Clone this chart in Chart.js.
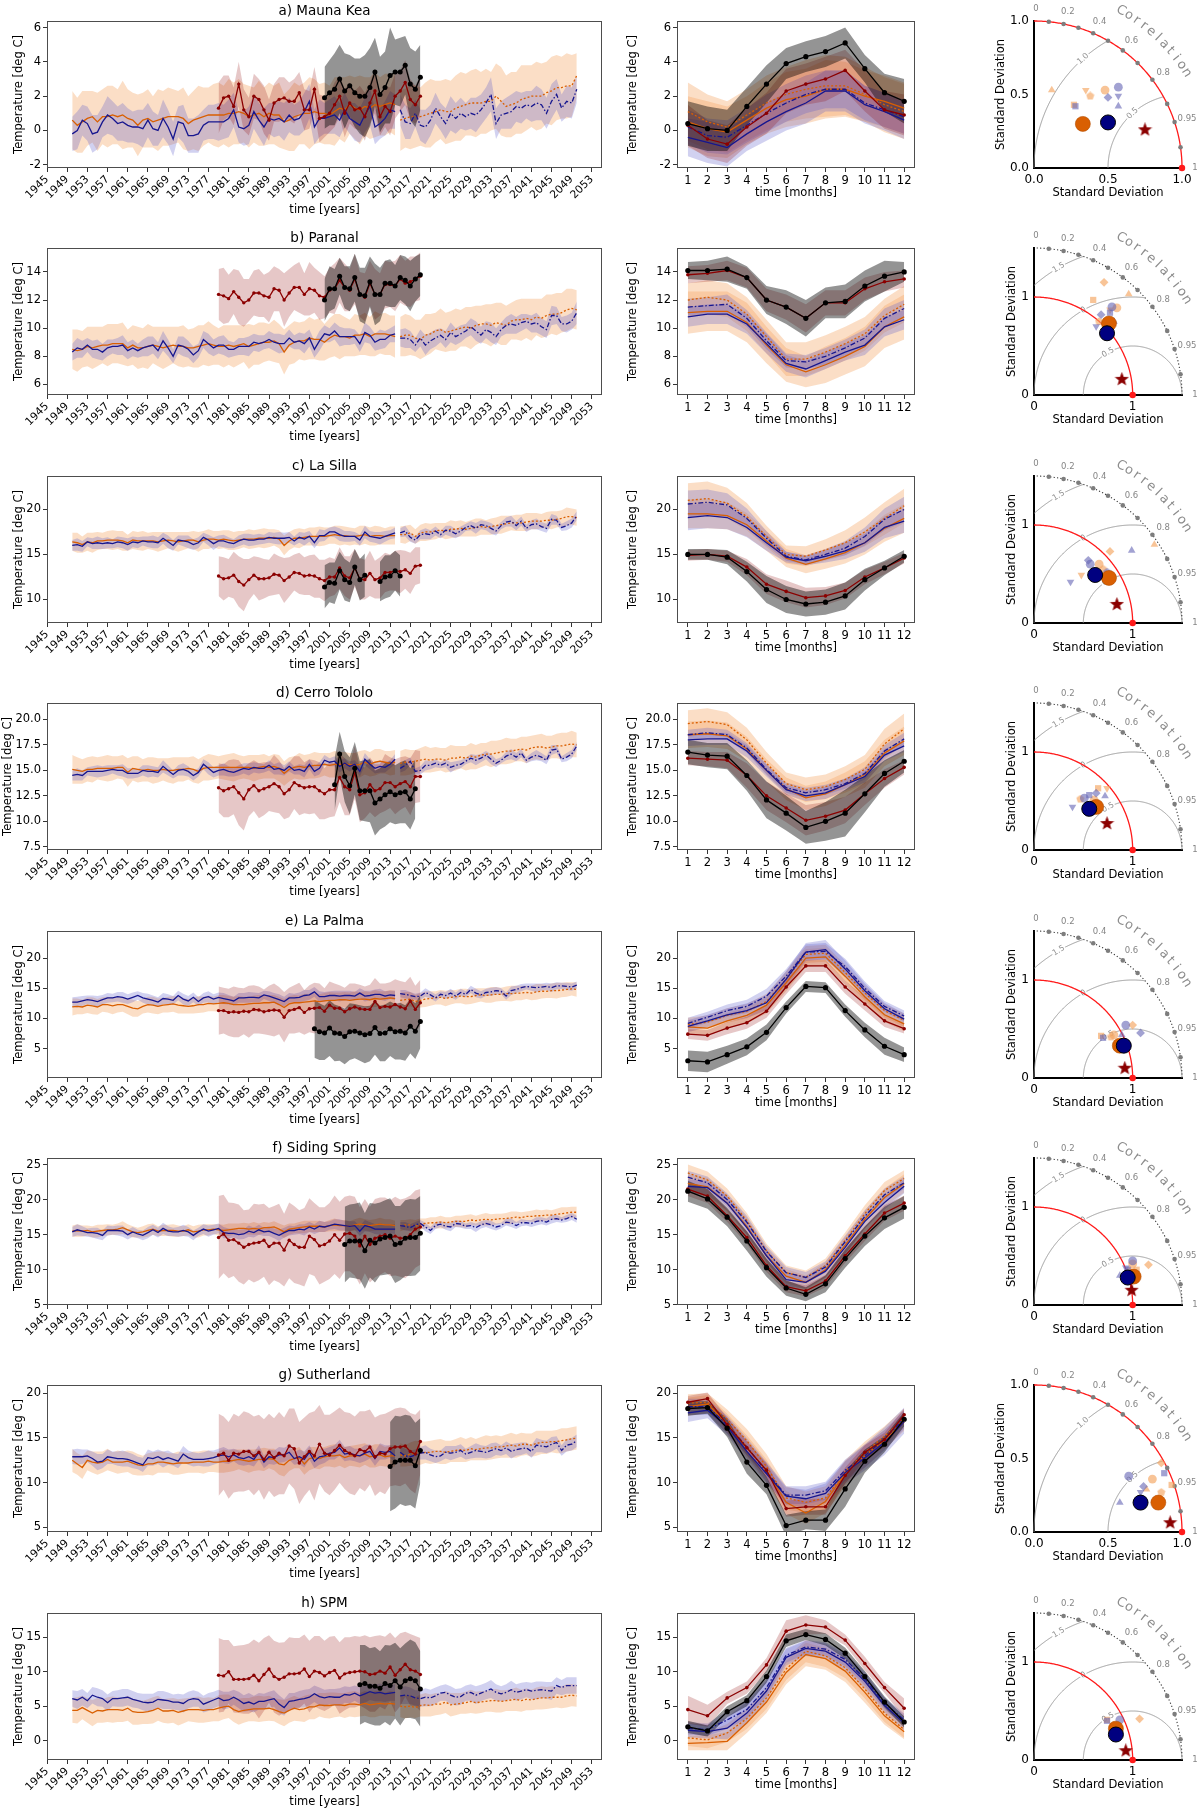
<!DOCTYPE html>
<html><head><meta charset="utf-8">
<script src="https://cdn.jsdelivr.net/npm/chart.js@4.4.1/dist/chart.umd.min.js"></script>
<style>
html,body{margin:0;padding:0;background:#fff;}
body{position:relative;width:1200px;height:1814px;overflow:hidden;}
canvas{position:absolute;}
</style></head><body>
<script>
// ================= DATA =================
const siteTitles = ['a) Mauna Kea','b) Paranal','c) La Silla','d) Cerro Tololo','e) La Palma','f) Siding Spring','g) Sutherland','h) SPM'];
const yMin = [-2.19, 5.25, 7.39, 7.18, 0.14, 4.98, 4.48, -2.82];
const yMax = [6.38, 15.7, 23.71, 21.62, 24.48, 25.93, 20.93, 18.54];
const yTicks = [[-2,0,2,4,6],[6,8,10,12,14],[10,15,20],[7.5,10,12.5,15,17.5,20],[5,10,15,20],[5,10,15,20,25],[5,10,15,20],[0,5,10,15]];
const yTickDecimals = [0,0,0,1,0,0,0,0];
const yearTicks = [1945,1949,1953,1957,1961,1965,1969,1973,1977,1981,1985,1989,1993,1997,2001,2005,2009,2013,2017,2021,2025,2029,2033,2037,2041,2045,2049,2053];
const monthTicks = [1,2,3,4,5,6,7,8,9,10,11,12];
const histStart = 1950, futStart = 2015, reanStart = 1979;
const obsStart = [2000,2000,2000,2002,1998,2004,2013,2007];

// yearly model mean, historical 1950-2014 (orange family)
const orangeHist = [
[0.6,0.3,0.5,0.7,0.8,0.5,0.8,0.8,0.9,0.8,0.9,0.7,0.6,0.3,0.6,0.7,0.5,0.6,0.7,0.8,0.8,0.8,0.7,0.4,0.6,0.7,0.8,0.9,0.9,0.9,0.9,1.0,1.0,1.1,1.0,0.8,0.9,1.0,0.8,1.0,0.9,0.9,0.5,0.6,0.8,0.9,1.0,1.0,1.1,1.0,1.0,0.9,1.1,1.3,1.2,1.5,1.3,1.2,1.4,1.3,1.5,1.4,1.5,1.6,1.5],
[8.5,8.4,8.5,8.7,8.6,8.7,8.8,8.8,8.9,8.9,8.9,8.6,8.8,8.6,8.6,8.7,8.8,8.7,8.6,8.7,8.8,8.7,8.7,8.6,8.6,8.7,8.8,8.9,8.8,8.7,8.7,8.8,8.7,8.8,8.9,8.7,8.8,8.9,9.0,9.0,9.1,8.9,8.3,8.8,9.0,9.1,9.1,9.3,9.2,9.2,9.0,9.3,9.5,9.4,9.4,9.3,9.5,9.5,9.6,9.4,9.6,9.6,9.6,9.5,9.4],
[16.4,16.3,16.1,16.4,16.3,16.5,16.5,16.6,16.6,16.6,16.5,16.3,16.6,16.5,16.5,16.5,16.5,16.4,16.5,16.6,16.5,16.4,16.5,16.6,16.6,16.4,16.6,16.7,16.7,16.6,16.7,16.6,16.5,16.6,16.7,16.7,16.7,16.8,16.8,16.8,16.9,16.7,16.0,16.5,16.8,16.8,16.9,17.0,17.0,17.0,17.0,17.1,17.2,17.1,17.1,17.0,17.0,17.1,17.2,17.0,17.1,17.1,17.0,17.1,17.1],
[15.1,15.0,14.9,15.1,15.1,15.2,15.2,15.2,15.2,15.3,15.3,14.8,15.2,15.1,15.0,15.1,15.0,15.0,15.1,15.0,15.0,15.1,15.1,15.2,15.1,14.9,15.2,15.3,15.3,15.3,15.3,15.3,15.3,15.3,15.3,15.3,15.2,15.3,15.4,15.3,15.4,15.2,14.7,15.1,15.3,15.4,15.3,15.4,15.5,15.5,15.6,15.5,15.6,15.6,15.6,15.6,15.5,15.6,15.8,15.6,15.8,15.9,15.8,15.7,15.8],
[11.9,12.0,11.9,12.2,12.1,11.9,12.3,12.3,12.1,12.3,12.3,12.0,11.7,11.6,12.0,12.3,12.2,12.0,12.2,12.3,12.4,12.2,12.1,12.0,12.1,12.3,12.3,12.5,12.4,12.5,12.6,12.5,12.3,12.3,12.3,12.4,12.5,12.5,12.6,12.6,12.7,12.3,11.8,12.4,12.6,12.6,12.7,12.8,12.9,12.8,12.9,13.0,13.0,13.1,13.1,13.0,13.1,13.2,13.2,13.1,13.3,13.2,13.3,13.4,13.3],
[15.5,15.6,15.5,15.6,15.4,15.5,15.6,15.7,15.7,15.8,16.0,15.7,15.4,15.3,15.4,15.6,15.8,15.5,15.6,15.6,15.6,15.5,15.5,15.7,15.4,15.5,15.7,15.7,15.8,15.7,15.6,15.7,15.8,15.9,15.9,15.8,15.9,15.8,16.0,16.0,16.1,15.8,15.4,15.8,15.9,16.0,16.1,16.2,16.2,16.2,16.1,16.3,16.4,16.3,16.3,16.2,16.4,16.5,16.4,16.3,16.4,16.5,16.4,16.4,16.3],
[12.5,12.1,11.7,12.5,12.3,12.2,12.3,12.6,12.3,12.3,12.3,12.4,12.2,12.0,11.9,12.1,12.1,12.3,12.3,12.2,12.1,12.2,12.2,12.2,12.3,12.3,12.3,12.4,12.3,12.3,12.4,12.4,12.5,12.6,12.5,12.4,12.5,12.6,12.6,12.7,12.6,12.1,12.0,12.5,12.7,12.8,12.1,12.7,12.8,12.7,12.9,13.0,13.0,13.1,12.8,13.0,13.0,13.0,13.2,12.9,13.0,13.1,12.9,13.0,13.0],
[4.4,4.4,4.8,4.4,4.0,4.4,4.3,4.5,4.5,4.5,4.4,4.7,4.2,4.1,4.1,4.2,4.4,4.7,4.3,4.3,4.4,4.1,4.3,4.5,4.5,4.5,4.4,4.5,4.5,4.7,4.9,5.0,4.5,4.2,4.4,4.5,4.6,4.6,4.6,4.7,4.5,4.2,4.0,4.4,4.7,4.5,4.6,4.9,4.9,5.2,5.1,5.1,5.2,5.2,5.1,5.3,5.3,5.2,5.4,5.2,5.3,5.4,5.3,5.4,5.3]];
const orangeHistSd = [
[1.7,1.6,1.8,1.6,1.5,1.7,1.6,1.8,1.7,1.6,2.0,1.7,1.6,1.8,1.6,1.7,1.5,1.8,1.6,1.7,1.6,1.5,1.8,1.6,1.7,1.9,1.7,1.6,1.8,1.9,1.7,2.0,1.8,1.9,1.7,1.8,1.6,1.9,1.7,1.8,1.7,1.9,1.6,1.8,2.0,1.7,1.8,2.1,1.9,1.7,1.8,1.7,2.0,1.8,1.9,1.7,1.8,2.0,1.7,1.8,1.9,1.7,1.8,1.7,1.8],
[1.4,1.5,1.3,1.4,1.5,1.4,1.3,1.5,1.4,1.4,1.5,1.3,1.4,1.5,1.4,1.6,1.3,1.4,1.5,1.4,1.3,1.4,1.5,1.3,1.4,1.5,1.4,1.6,1.4,1.3,1.5,1.4,1.5,1.4,1.3,1.6,1.4,1.5,1.4,1.3,1.5,1.4,1.6,1.4,1.5,1.3,1.4,1.5,1.4,1.5,1.3,1.4,1.5,1.6,1.4,1.3,1.5,1.4,1.5,1.4,1.6,1.4,1.5,1.4,1.5],
[1.0,1.1,0.9,1.0,1.1,1.0,0.9,1.0,1.1,1.0,1.1,0.9,1.0,1.0,1.1,0.9,1.0,1.1,1.0,0.9,1.0,1.1,1.0,0.9,1.0,1.1,1.0,1.1,0.9,1.0,1.0,1.1,1.0,1.0,0.9,1.1,1.0,1.0,1.1,1.0,0.9,1.0,1.1,1.0,1.0,1.1,0.9,1.0,1.0,1.1,1.0,0.9,1.0,1.1,1.0,1.0,0.9,1.1,1.0,1.0,1.1,1.0,0.9,1.0,1.0],
[1.4,1.3,1.2,1.2,1.3,1.1,1.2,1.3,1.2,1.1,1.2,1.4,1.2,1.3,1.1,1.2,1.3,1.2,1.1,1.2,1.3,1.2,1.2,1.1,1.3,1.2,1.2,1.3,1.2,1.1,1.2,1.3,1.4,1.2,1.1,1.2,1.3,1.2,1.2,1.1,1.2,1.3,1.2,1.2,1.1,1.3,1.2,1.2,1.3,1.2,1.1,1.2,1.3,1.2,1.2,1.1,1.2,1.3,1.2,1.2,1.3,1.2,1.1,1.2,1.2],
[1.4,1.3,1.2,1.3,1.4,1.3,1.2,1.3,1.4,1.3,1.2,1.3,1.4,1.3,1.2,1.3,1.4,1.3,1.2,1.3,1.3,1.4,1.3,1.2,1.3,1.4,1.3,1.3,1.2,1.4,1.3,1.2,1.3,1.4,1.3,1.2,1.3,1.4,1.3,1.3,1.2,1.3,1.4,1.3,1.3,1.2,1.4,1.3,1.3,1.2,1.3,1.4,1.3,1.2,1.3,1.3,1.4,1.2,1.3,1.3,1.4,1.3,1.2,1.3,1.3],
[0.8,0.9,0.8,0.7,0.8,0.9,0.8,0.8,0.7,0.8,0.9,0.8,0.8,0.7,0.8,0.9,0.8,0.7,0.8,0.8,0.9,0.8,0.7,0.8,0.8,0.9,0.8,0.8,0.7,0.8,0.8,0.9,0.8,0.7,0.8,0.8,0.9,0.8,0.8,0.7,0.8,0.8,0.9,0.8,0.7,0.8,0.9,0.8,0.8,0.8,0.7,0.8,0.9,0.8,0.8,0.7,0.8,0.9,0.8,0.8,0.8,0.9,0.8,0.8,0.7],
[1.3,1.2,1.3,1.1,1.2,1.3,1.2,1.2,1.1,1.3,1.2,1.2,1.3,1.2,1.1,1.2,1.3,1.2,1.2,1.1,1.2,1.3,1.2,1.1,1.2,1.2,1.3,1.2,1.1,1.2,1.3,1.2,1.2,1.1,1.2,1.3,1.2,1.2,1.3,1.1,1.2,1.2,1.3,1.2,1.1,1.2,1.2,1.3,1.2,1.2,1.1,1.2,1.3,1.2,1.2,1.1,1.2,1.3,1.2,1.2,1.3,1.2,1.1,1.2,1.2],
[1.8,1.9,1.7,1.8,1.9,1.8,1.7,1.8,1.9,1.8,1.7,1.8,1.9,1.8,1.7,1.8,1.9,1.8,1.7,1.8,1.8,1.9,1.8,1.7,1.8,1.9,1.8,1.8,1.7,1.9,1.8,1.7,1.8,1.9,1.8,1.7,1.8,1.9,1.8,1.8,1.7,1.8,1.9,1.8,1.8,1.7,1.9,1.8,1.8,1.7,1.8,1.9,1.8,1.7,1.8,1.8,1.9,1.7,1.8,1.8,1.9,1.8,1.7,1.8,1.8]];
// yearly model mean, future 2015-2050 (orange family)
const orangeFut = [
[0.6,0.7,0.8,0.8,0.8,0.9,1.0,1.1,1.2,1.1,1.1,1.3,1.4,1.5,1.6,1.6,1.6,1.7,1.7,2.0,1.7,1.4,1.5,1.6,1.8,1.9,2.0,2.0,2.0,2.2,2.3,2.5,2.5,2.6,2.6,3.2],
[9.4,9.5,9.5,9.3,9.2,9.5,9.6,9.8,9.9,9.7,9.8,9.9,10.0,10.1,10.0,10.2,10.3,10.3,10.2,10.4,10.3,10.2,10.5,10.6,10.6,10.7,10.6,10.8,10.7,10.9,11.0,11.0,11.1,11.3,11.4,11.3],
[17.2,17.2,17.4,17.0,17.4,17.5,17.5,17.6,17.7,17.6,17.8,17.8,17.9,17.8,17.9,18.0,18.1,18.0,18.1,18.2,18.3,18.4,18.5,18.5,18.5,18.6,18.7,18.7,18.7,18.8,18.8,18.9,19.0,19.2,19.2,19.1],
[15.7,15.8,15.8,15.9,16.0,16.1,16.0,16.1,16.1,16.0,16.2,16.2,16.3,16.2,16.4,16.3,16.5,16.6,16.6,16.7,16.8,16.9,16.9,17.0,17.1,17.0,17.2,17.3,17.3,17.2,17.3,17.4,17.4,17.5,17.6,17.5],
[13.0,13.1,13.2,12.8,13.0,13.2,13.3,13.4,13.5,13.3,13.5,13.6,13.7,13.6,13.6,13.8,13.9,13.8,13.9,14.0,14.0,14.1,14.1,14.2,14.2,14.3,14.2,14.4,14.5,14.5,14.6,14.6,14.7,14.8,14.9,14.8],
[16.3,16.4,16.4,16.2,16.5,16.6,16.7,16.7,16.8,16.7,16.8,16.9,16.9,16.9,17.1,17.0,17.1,17.2,17.1,17.2,17.3,17.3,17.4,17.5,17.4,17.6,17.6,17.7,17.7,17.8,17.8,17.9,18.0,18.1,18.2,18.2],
[13.1,13.0,13.2,13.3,13.3,13.4,13.4,13.5,13.5,13.4,13.5,13.6,13.7,13.6,13.8,13.7,13.8,13.9,13.9,14.0,14.0,14.1,14.2,14.1,14.3,14.3,14.2,14.4,14.5,14.5,14.6,14.6,14.7,14.8,14.9,15.0],
[5.0,4.9,5.0,4.8,5.1,5.2,5.1,5.3,5.3,5.6,5.2,5.3,5.4,5.5,5.7,5.5,5.6,5.7,5.8,5.8,5.7,5.8,5.9,6.0,5.8,6.0,5.9,6.1,6.2,6.2,6.3,6.3,6.3,6.5,6.6,6.5]];
const orangeFutSd = [
[1.8,1.7,1.9,1.8,1.7,1.9,2.0,1.8,1.7,1.9,1.8,1.9,2.0,1.8,1.9,2.0,1.8,1.9,1.7,1.9,2.0,1.8,1.9,1.8,2.0,1.9,1.8,2.0,1.9,1.8,2.0,1.9,1.8,1.9,1.8,1.3],
[1.4,1.5,1.4,1.3,1.4,1.5,1.4,1.3,1.5,1.4,1.4,1.5,1.3,1.4,1.5,1.4,1.3,1.4,1.5,1.4,1.5,1.4,1.3,1.4,1.5,1.4,1.5,1.3,1.4,1.5,1.4,1.5,1.4,1.5,1.4,1.4],
[0.9,1.0,0.9,0.8,0.9,1.0,0.9,0.9,0.8,0.9,1.0,0.9,0.9,0.8,0.9,1.0,0.9,0.8,0.9,0.9,1.0,0.9,0.8,0.9,0.9,1.0,0.9,0.9,0.8,0.9,1.0,0.9,0.9,1.0,0.9,0.9],
[1.2,1.3,1.2,1.1,1.2,1.3,1.2,1.2,1.1,1.2,1.3,1.2,1.1,1.2,1.3,1.2,1.2,1.1,1.3,1.2,1.2,1.3,1.2,1.1,1.2,1.3,1.2,1.2,1.3,1.2,1.1,1.2,1.3,1.2,1.3,1.2],
[1.2,1.3,1.2,1.1,1.2,1.3,1.2,1.1,1.2,1.3,1.2,1.1,1.2,1.3,1.2,1.2,1.1,1.2,1.3,1.2,1.1,1.2,1.3,1.2,1.2,1.1,1.2,1.3,1.2,1.1,1.2,1.3,1.2,1.2,1.1,1.2],
[0.8,0.7,0.8,0.9,0.8,0.7,0.8,0.8,0.9,0.8,0.7,0.8,0.8,0.9,0.8,0.7,0.8,0.9,0.8,0.8,0.7,0.8,0.9,0.8,0.8,0.7,0.8,0.9,0.8,0.8,0.7,0.8,0.9,0.8,0.8,0.8],
[1.3,1.2,1.3,1.4,1.3,1.2,1.3,1.3,1.4,1.3,1.2,1.3,1.4,1.3,1.3,1.2,1.3,1.4,1.3,1.3,1.2,1.3,1.4,1.3,1.3,1.2,1.3,1.4,1.3,1.3,1.2,1.3,1.4,1.3,1.3,1.3],
[1.6,1.7,1.6,1.5,1.6,1.7,1.6,1.6,1.5,1.6,1.7,1.6,1.5,1.6,1.7,1.6,1.6,1.5,1.6,1.7,1.6,1.5,1.6,1.7,1.6,1.6,1.5,1.6,1.7,1.6,1.6,1.5,1.6,1.7,1.6,1.6]];
// yearly model mean, historical 1950-2014 (blue family)
const blueHist = [
[-0.2,0.0,0.6,0.4,-0.2,-0.1,0.5,0.9,0.7,0.4,0.5,0.3,0.2,0.2,0.1,0.6,0.1,0.0,0.7,0.2,-0.5,0.5,0.4,-0.3,-0.3,-0.2,0.3,0.5,0.5,0.5,0.5,0.7,1.2,0.2,0.1,0.3,1.1,0.6,0.2,0.7,0.6,0.7,0.5,0.9,0.6,0.7,1.1,1.7,0.2,0.7,0.7,0.8,0.9,0.6,1.2,0.7,0.5,0.3,0.9,1.4,0.2,0.4,0.7,1.2,1.1],
[8.3,8.6,8.5,8.8,8.5,8.5,8.3,8.6,8.7,8.7,8.8,8.4,8.6,8.4,8.6,8.7,8.8,8.4,9.1,8.6,8.0,8.8,8.7,8.5,8.1,8.4,9.2,8.9,8.6,8.8,8.8,8.5,8.5,8.7,8.7,8.7,9.0,8.9,9.0,9.2,9.0,8.9,8.9,9.3,9.0,9.1,8.9,9.3,8.5,9.1,9.6,9.5,9.8,9.4,9.4,9.4,9.4,8.9,9.7,9.5,9.0,9.2,9.2,9.5,9.6],
[16.0,16.1,15.9,16.4,16.2,16.3,16.2,16.3,16.2,16.4,16.3,16.1,16.4,16.3,16.5,16.4,16.4,16.3,16.8,16.4,16.0,16.6,16.5,16.4,16.1,16.3,16.9,16.6,16.2,16.5,16.5,16.3,16.2,16.5,16.7,16.6,16.6,16.7,16.7,16.9,16.8,16.8,16.8,16.9,16.5,16.9,16.7,17.0,16.3,17.1,17.1,17.5,17.5,17.2,17.0,17.0,17.0,16.6,17.5,17.0,16.9,16.8,17.0,17.2,17.4],
[14.5,14.6,14.5,14.9,14.9,14.9,14.9,15.0,15.1,15.0,15.0,14.7,14.7,14.7,15.0,14.9,14.9,14.8,15.4,15.0,14.6,15.0,15.1,14.9,14.5,14.8,15.6,15.2,14.8,15.0,15.1,14.9,14.8,15.0,15.2,15.1,15.3,15.2,15.2,15.5,15.1,15.2,15.0,15.4,15.0,15.1,14.9,15.6,14.9,15.2,16.0,15.8,15.9,15.4,15.7,15.4,15.6,14.9,16.1,15.6,15.2,15.4,15.3,15.6,16.1],
[12.7,12.7,12.9,13.1,13.0,12.8,13.1,13.4,13.4,13.6,13.5,13.2,13.5,13.8,13.4,13.2,13.0,12.7,13.3,13.2,13.0,13.8,13.2,12.9,13.5,12.8,13.4,13.6,13.2,13.5,13.3,13.1,12.9,13.4,13.4,13.5,13.5,13.4,13.9,13.7,13.4,13.1,12.8,13.4,13.4,13.5,13.8,13.9,14.4,13.6,13.6,13.8,13.8,13.7,13.8,13.8,13.7,14.2,13.7,13.8,14.0,14.0,13.7,13.9,13.8],
[15.4,15.7,15.5,15.3,15.3,15.2,14.9,15.6,15.6,15.6,15.5,15.0,15.4,15.1,14.9,15.3,15.7,15.3,15.9,15.5,15.4,15.4,15.6,15.4,14.9,15.4,15.8,15.5,15.7,15.9,15.3,15.2,15.2,15.0,15.1,15.5,15.3,15.7,15.4,15.5,15.2,14.9,15.3,15.6,15.6,15.8,15.7,16.1,15.8,16.2,16.1,16.3,16.5,16.4,16.3,16.2,16.3,15.5,16.3,16.1,15.8,15.8,15.8,15.8,15.8],
[12.9,12.9,12.9,13.0,12.7,12.3,12.4,12.9,12.8,12.7,12.7,12.6,12.4,12.2,12.0,12.8,12.7,12.9,12.6,12.8,12.6,12.4,13.2,12.8,12.6,12.6,12.6,12.7,12.8,13.0,13.1,12.9,13.1,12.8,12.7,12.9,12.6,13.4,12.3,12.9,12.8,13.1,13.1,13.4,12.7,12.9,12.6,13.4,12.4,12.9,13.0,13.3,13.4,13.9,13.2,13.3,13.1,13.0,13.3,13.5,12.7,13.5,13.4,13.5,13.0],
[6.1,5.9,6.3,5.8,6.6,6.3,6.1,5.5,6.1,6.1,6.2,6.3,6.0,5.8,5.6,5.5,5.6,6.0,5.9,5.8,5.6,5.6,5.4,5.9,6.1,6.0,5.3,5.6,5.9,6.2,5.8,5.9,6.3,5.9,5.4,5.6,5.3,5.7,5.7,5.9,6.1,5.3,4.8,5.7,5.8,6.0,6.1,6.3,6.8,6.4,6.2,6.4,6.3,6.3,6.7,6.6,6.9,6.5,6.8,7.1,6.9,7.0,6.8,6.9,7.0]];
const blueHistSd = [
[1.0,1.1,0.9,1.0,1.1,1.0,0.9,1.1,1.0,1.0,1.1,1.0,0.9,1.0,1.1,1.0,1.0,0.9,1.1,1.0,1.0,0.9,1.1,1.0,1.0,1.1,0.9,1.0,1.0,1.1,1.0,1.1,1.0,0.9,1.0,1.1,1.0,1.0,1.1,0.9,1.0,1.0,1.1,1.0,0.9,1.0,1.1,1.0,1.0,1.1,0.9,1.0,1.1,1.0,1.0,0.9,1.1,1.0,1.0,1.1,1.0,0.9,1.0,1.1,1.0],
[0.6,0.7,0.6,0.5,0.6,0.7,0.6,0.6,0.5,0.6,0.7,0.6,0.6,0.5,0.6,0.7,0.6,0.6,0.7,0.6,0.5,0.6,0.7,0.6,0.6,0.5,0.6,0.7,0.6,0.6,0.7,0.6,0.5,0.6,0.6,0.7,0.6,0.6,0.5,0.6,0.6,0.7,0.6,0.6,0.5,0.6,0.7,0.6,0.6,0.7,0.6,0.5,0.6,0.7,0.6,0.6,0.5,0.6,0.7,0.6,0.6,0.7,0.6,0.5,0.6],
[0.6,0.7,0.6,0.5,0.6,0.7,0.6,0.6,0.5,0.6,0.6,0.7,0.6,0.6,0.5,0.6,0.7,0.6,0.6,0.7,0.6,0.5,0.6,0.7,0.6,0.6,0.5,0.6,0.7,0.6,0.7,0.6,0.5,0.6,0.6,0.7,0.6,0.6,0.5,0.6,0.6,0.7,0.6,0.6,0.5,0.6,0.7,0.6,0.6,0.7,0.6,0.5,0.6,0.7,0.6,0.6,0.5,0.6,0.7,0.6,0.6,0.7,0.6,0.5,0.6],
[0.5,0.6,0.5,0.4,0.5,0.6,0.5,0.5,0.4,0.5,0.6,0.5,0.5,0.4,0.5,0.6,0.5,0.5,0.6,0.5,0.4,0.5,0.6,0.5,0.5,0.4,0.5,0.6,0.5,0.5,0.6,0.5,0.4,0.5,0.5,0.6,0.5,0.5,0.4,0.5,0.5,0.6,0.5,0.5,0.4,0.5,0.6,0.5,0.5,0.6,0.5,0.4,0.5,0.6,0.5,0.5,0.4,0.5,0.6,0.5,0.5,0.6,0.5,0.4,0.5],
[0.8,0.9,0.8,0.7,0.8,0.9,0.8,0.8,0.7,0.8,0.9,0.8,0.8,0.7,0.8,0.9,0.8,0.8,0.9,0.8,0.7,0.8,0.9,0.8,0.8,0.7,0.8,0.9,0.8,0.8,0.9,0.8,0.7,0.8,0.8,0.9,0.8,0.8,0.7,0.8,0.8,0.9,0.8,0.8,0.7,0.8,0.9,0.8,0.8,0.9,0.8,0.7,0.8,0.9,0.8,0.8,0.7,0.8,0.9,0.8,0.8,0.9,0.8,0.7,0.8],
[0.7,0.8,0.7,0.6,0.7,0.8,0.7,0.7,0.6,0.7,0.8,0.7,0.7,0.6,0.7,0.8,0.7,0.7,0.8,0.7,0.6,0.7,0.8,0.7,0.7,0.6,0.7,0.8,0.7,0.7,0.8,0.7,0.6,0.7,0.7,0.8,0.7,0.7,0.6,0.7,0.7,0.8,0.7,0.7,0.6,0.7,0.8,0.7,0.7,0.8,0.7,0.6,0.7,0.8,0.7,0.7,0.6,0.7,0.8,0.7,0.7,0.8,0.7,0.6,0.7],
[0.8,0.9,0.8,0.7,0.8,0.9,0.8,0.8,0.7,0.8,0.9,0.8,0.8,0.7,0.8,0.9,0.8,0.8,0.9,0.8,0.7,0.8,0.9,0.8,0.8,0.7,0.8,0.9,0.8,0.8,0.9,0.8,0.7,0.8,0.8,0.9,0.8,0.8,0.7,0.8,0.8,0.9,0.8,0.8,0.7,0.8,0.9,0.8,0.8,0.9,0.8,0.7,0.8,0.9,0.8,0.8,0.7,0.8,0.9,0.8,0.8,0.9,0.8,0.7,0.8],
[1.2,1.3,1.2,1.1,1.2,1.3,1.2,1.2,1.1,1.2,1.3,1.2,1.2,1.1,1.2,1.3,1.2,1.2,1.3,1.2,1.1,1.2,1.3,1.2,1.2,1.1,1.2,1.3,1.2,1.2,1.3,1.2,1.1,1.2,1.2,1.3,1.2,1.2,1.1,1.2,1.2,1.3,1.2,1.2,1.1,1.2,1.3,1.2,1.2,1.3,1.2,1.1,1.2,1.3,1.2,1.2,1.1,1.2,1.3,1.2,1.2,1.3,1.2,1.1,1.2]];
// yearly model mean, future 2015-2050 (blue family)
const blueFut = [
[1.2,0.5,0.4,1.0,0.3,0.2,0.6,1.3,0.8,0.4,1.0,0.7,1.0,0.8,1.0,0.9,1.2,1.6,2.1,0.4,0.9,1.0,1.1,1.4,1.3,1.5,1.4,1.6,1.5,1.0,1.7,2.1,1.3,1.7,1.6,2.4],
[9.3,9.3,9.2,8.8,9.3,8.8,9.1,9.3,9.5,9.2,9.7,9.4,9.6,9.8,10.1,9.8,9.5,9.9,9.7,9.4,9.9,10.2,10.3,10.2,10.4,10.5,10.3,10.4,10.1,9.9,10.9,10.9,10.3,10.3,10.5,11.1],
[17.4,17.6,16.9,16.6,17.2,17.3,17.2,17.6,17.2,17.7,17.6,17.3,17.6,18.0,18.2,17.9,18.3,18.2,17.9,17.6,18.2,18.6,18.7,18.2,18.7,17.9,18.3,18.4,18.1,17.9,18.9,18.8,18.0,18.2,18.5,19.3],
[15.2,15.5,15.9,14.9,15.0,15.5,15.5,15.7,15.5,15.7,15.3,15.5,15.6,15.9,16.2,16.0,16.2,16.5,16.1,15.7,16.0,16.4,16.6,16.3,16.7,16.0,16.3,16.5,16.3,16.0,17.0,17.1,16.1,16.3,16.6,17.4],
[14.1,14.0,13.8,13.6,13.7,14.3,13.9,13.4,14.0,13.8,14.2,13.7,14.3,14.0,14.8,14.2,13.9,14.3,14.4,14.6,14.5,13.7,14.6,14.8,15.1,15.3,15.2,15.1,15.2,15.3,15.1,15.4,15.4,15.3,15.2,15.5],
[16.3,16.2,16.0,16.4,16.6,16.1,15.6,16.3,16.5,16.2,16.1,16.6,16.5,16.2,16.3,16.0,16.4,16.6,16.4,16.1,16.3,16.8,16.7,16.3,16.7,16.7,16.6,16.9,17.0,16.8,17.2,17.3,17.1,17.3,17.6,17.2],
[13.4,13.0,12.9,13.1,13.3,13.4,13.1,12.9,13.0,13.4,13.3,13.4,13.6,13.2,13.4,13.6,13.5,13.4,13.6,13.8,13.6,13.9,13.5,13.7,13.8,13.9,13.5,14.2,14.1,14.0,14.3,14.5,13.6,14.2,14.3,14.7],
[6.5,6.6,6.5,6.2,6.1,6.3,6.2,6.5,6.9,7.0,6.6,6.3,6.4,6.9,7.0,6.6,6.9,7.2,7.5,7.0,6.8,7.0,7.4,7.0,7.2,7.4,7.2,7.3,7.4,7.3,7.2,8.0,7.7,8.0,8.0,8.0]];
const blueFutSd = [
[0.9,1.0,0.9,0.8,0.9,1.0,0.9,0.9,0.8,0.9,1.0,0.9,0.9,0.8,0.9,1.0,0.9,0.9,1.0,0.9,0.8,0.9,1.0,0.9,0.9,0.8,0.9,1.0,0.9,0.9,1.0,0.9,0.8,0.9,0.9,0.8],
[0.6,0.7,0.6,0.5,0.6,0.7,0.6,0.6,0.5,0.6,0.7,0.6,0.6,0.5,0.6,0.7,0.6,0.6,0.7,0.6,0.5,0.6,0.7,0.6,0.6,0.5,0.6,0.7,0.6,0.6,0.7,0.6,0.5,0.6,0.6,0.8],
[0.5,0.6,0.5,0.4,0.5,0.6,0.5,0.5,0.4,0.5,0.6,0.5,0.5,0.4,0.5,0.6,0.5,0.5,0.6,0.5,0.4,0.5,0.6,0.5,0.5,0.4,0.5,0.6,0.5,0.5,0.6,0.5,0.4,0.5,0.5,0.5],
[0.4,0.5,0.4,0.3,0.4,0.5,0.4,0.4,0.3,0.4,0.5,0.4,0.4,0.3,0.4,0.5,0.4,0.4,0.5,0.4,0.3,0.4,0.5,0.4,0.4,0.3,0.4,0.5,0.4,0.4,0.5,0.4,0.3,0.4,0.4,0.4],
[0.6,0.7,0.6,0.5,0.6,0.7,0.6,0.6,0.5,0.6,0.7,0.6,0.6,0.5,0.6,0.7,0.6,0.6,0.7,0.6,0.5,0.6,0.7,0.6,0.6,0.5,0.6,0.7,0.6,0.6,0.7,0.6,0.5,0.6,0.6,0.6],
[0.5,0.6,0.5,0.4,0.5,0.6,0.5,0.5,0.4,0.5,0.6,0.5,0.5,0.4,0.5,0.6,0.5,0.5,0.6,0.5,0.4,0.5,0.6,0.5,0.5,0.4,0.5,0.6,0.5,0.5,0.6,0.5,0.4,0.5,0.5,0.5],
[0.7,0.8,0.7,0.6,0.7,0.8,0.7,0.7,0.6,0.7,0.8,0.7,0.7,0.6,0.7,0.8,0.7,0.7,0.8,0.7,0.6,0.7,0.8,0.7,0.7,0.6,0.7,0.8,0.7,0.7,0.8,0.7,0.6,0.7,0.7,0.7],
[1.2,1.3,1.2,1.1,1.2,1.3,1.2,1.2,1.1,1.2,1.3,1.2,1.2,1.1,1.2,1.3,1.2,1.2,1.3,1.2,1.1,1.2,1.3,1.2,1.2,1.1,1.2,1.3,1.2,1.2,1.3,1.2,1.1,1.2,1.2,1.2]];
// reanalysis yearly 1979-2019 (dark red)
const reanYear = [
[1.3,1.9,2.0,1.4,2.7,1.2,0.8,2.0,1.8,1.2,0.6,1.6,1.8,1.9,1.7,1.7,2.2,1.2,1.2,2.4,0.7,0.8,1.0,1.5,2.0,1.0,1.6,1.2,1.3,0.8,1.6,2.3,0.8,1.4,1.1,2.0,2.3,2.8,1.8,1.5,2.0],
[12.4,12.3,12.1,12.6,12.2,11.8,12.0,12.5,12.5,12.3,12.2,12.8,12.7,12.0,12.5,12.9,12.9,12.4,12.8,12.7,12.3,12.2,12.7,12.8,13.4,12.9,12.7,13.5,12.4,12.2,13.2,12.4,12.4,13.1,13.1,13.0,13.5,13.2,13.3,13.5,13.7],
[12.6,12.3,12.4,12.7,12.0,11.6,12.2,12.7,12.3,12.3,12.4,12.8,12.7,12.1,12.5,13.0,12.9,12.6,12.7,12.6,12.3,12.1,12.5,12.5,13.5,12.6,12.4,13.5,12.3,12.2,12.9,12.2,12.4,13.0,13.0,13.2,13.1,13.3,12.9,13.7,13.8],
[13.3,13.0,13.2,13.4,12.8,12.2,13.1,13.5,13.0,13.2,13.4,13.7,13.4,12.7,13.1,13.8,13.5,13.3,13.4,13.4,13.0,12.7,13.1,13.1,14.3,13.4,13.1,14.8,12.6,12.8,13.6,13.0,13.2,13.8,13.8,13.4,13.7,13.9,13.4,14.4,14.4],
[11.3,11.3,11.0,11.1,11.0,11.2,11.1,11.5,11.4,11.1,11.3,11.4,11.3,10.2,11.3,11.5,11.8,11.0,11.6,11.7,11.8,11.2,12.2,11.7,11.7,11.1,11.6,11.9,11.6,11.5,11.5,12.8,11.8,12.0,11.9,12.3,11.9,11.6,12.9,11.5,12.6],
[14.6,15.1,14.2,14.3,13.8,13.2,13.6,13.8,13.9,14.2,13.3,13.8,13.8,12.8,14.2,13.6,13.2,13.2,14.8,14.3,13.4,13.6,14.1,15.0,14.2,15.1,15.2,14.8,13.4,14.8,13.6,14.5,14.8,15.0,14.5,14.8,14.5,14.5,15.0,15.8,16.1],
[13.1,13.3,12.5,13.3,13.2,13.5,13.5,13.0,13.4,12.6,13.4,12.8,13.3,13.0,14.1,13.8,12.2,12.9,13.5,13.0,14.3,13.3,13.1,13.6,14.2,13.6,13.3,13.0,13.7,13.5,14.0,12.9,13.3,13.2,13.8,14.0,14.0,14.1,13.5,13.2,14.6],
[9.5,9.4,10.0,8.9,8.9,8.9,9.0,9.5,8.7,9.6,10.4,9.3,8.9,9.2,9.7,9.7,9.8,10.4,9.3,10.1,9.9,9.4,9.9,10.2,9.1,9.7,9.9,10.0,10.1,10.0,9.6,9.7,10.1,9.8,10.7,9.5,10.3,11.1,10.3,10.1,9.6]];
const reanYearSd = [
[1.5,1.3,1.2,1.1,1.3,1.2,1.1,1.3,1.2,1.4,1.2,1.1,1.3,1.2,1.1,1.3,1.2,1.2,1.1,1.3,1.4,1.2,1.1,1.3,1.2,1.4,1.2,1.1,1.3,1.4,1.2,1.3,1.1,1.2,1.4,1.3,1.2,1.3,1.2,1.1,1.2],
[1.8,2.0,1.7,1.6,1.9,1.7,1.5,1.6,1.7,1.5,1.8,1.6,1.5,1.9,1.7,1.6,1.8,1.5,1.9,1.6,1.7,1.5,1.6,1.8,1.6,1.7,1.5,1.8,1.6,1.7,1.6,1.8,1.5,1.7,1.6,1.8,1.7,1.6,1.8,1.6,1.7],
[2.2,2.4,2.1,2.6,2.8,2.9,2.3,2.1,2.4,2.2,2.0,2.3,2.1,2.5,2.2,2.0,2.3,2.1,2.2,2.4,2.1,2.3,2.2,2.0,2.3,2.2,2.4,2.1,2.3,2.2,2.5,2.1,2.3,2.2,2.0,2.2,2.4,2.1,2.3,2.1,2.0],
[2.4,2.6,2.8,2.7,3.2,3.1,2.6,2.5,2.7,2.6,2.4,2.8,2.6,2.5,2.7,2.6,2.9,2.5,2.7,2.6,2.8,2.5,2.7,2.6,2.4,2.8,2.5,2.6,2.7,2.5,2.7,2.6,2.4,2.8,2.5,2.7,2.6,2.5,2.8,2.6,2.5],
[4.0,3.8,3.9,4.2,4.1,3.8,4.3,4.0,3.9,3.7,4.1,4.4,3.9,4.2,3.8,4.0,4.1,3.7,3.9,4.2,4.0,3.8,3.9,4.1,3.8,4.0,4.2,3.9,4.0,3.8,4.1,3.9,4.0,3.8,4.1,4.2,4.3,4.4,4.0,3.9,3.8],
[5.9,5.6,5.4,5.2,5.5,5.3,5.0,5.6,5.4,5.2,5.5,5.3,5.6,5.2,5.4,5.5,5.3,5.6,5.4,5.2,5.5,5.3,5.4,5.6,5.5,5.3,5.4,5.6,5.5,5.3,5.4,5.6,5.5,5.3,5.4,5.6,5.5,5.7,5.6,5.5,5.4],
[4.6,4.1,4.3,4.4,4.2,4.5,4.3,4.4,4.2,4.5,4.3,4.4,4.6,4.3,4.2,4.5,4.6,4.4,4.3,5.0,4.4,4.3,4.5,4.4,4.2,4.3,4.5,4.4,4.3,4.5,4.2,4.4,4.3,4.5,4.2,4.3,4.4,4.2,4.3,4.4,3.6],
[5.4,5.2,4.6,4.8,4.9,5.0,5.1,5.2,5.5,5.3,4.9,5.2,5.3,5.1,5.3,5.2,5.1,5.0,5.2,5.1,5.3,5.1,5.2,5.0,5.2,5.3,5.1,5.2,5.0,5.3,5.4,5.5,5.2,5.3,5.0,5.4,5.3,4.7,5.2,5.1,5.3]];
// site observations, yearly (black), starting at obsStart
const obsYear = [
[1.9,2.2,2.4,3.0,2.3,2.6,2.2,2.0,2.0,2.5,3.4,2.1,2.5,3.2,3.4,3.4,3.8,2.7,2.4,3.1],
[12.0,12.8,12.8,13.7,12.9,12.8,13.6,12.4,12.3,13.3,12.4,12.4,13.2,13.2,13.0,13.6,13.4,13.0,13.5,13.8],
[11.4,11.9,11.8,13.2,12.2,11.9,13.6,12.2,12.7,null,null,12.0,12.5,12.6,13.2,12.6],
[13.6,16.6,14.4,13.5,15.2,13.0,13.0,13.0,11.8,12.2,12.6,12.9,12.6,12.8,12.9,12.2,13.2],
[8.3,7.8,7.6,8.4,7.6,7.5,7.0,7.8,7.9,7.6,7.3,7.5,8.5,7.5,7.6,8.3,7.8,7.9,7.6,8.7,7.9,9.5],
[13.6,14.1,14.1,14.1,12.7,14.2,13.8,14.4,14.6,14.8,13.6,13.8,14.5,14.6,14.6,15.2],
[11.8,12.3,12.5,12.5,12.5,11.9,13.6],
[8.1,8.3,7.9,7.9,7.6,8.3,8.0,8.7,7.8,8.7,9.0,8.7,7.5]];
const obsYearSd = [
[1.8,1.9,2.1,2.0,2.2,1.8,2.0,2.2,2.4,2.3,2.0,2.2,2.1,2.8,1.9,2.0,1.7,2.1,2.2,1.9],
[1.5,1.6,1.4,1.3,1.5,1.6,1.7,1.9,2.0,1.8,2.2,1.9,1.6,1.7,1.5,1.6,1.7,1.8,1.6,1.5],
[2.4,2.2,2.3,2.1,2.3,2.2,2.0,2.3,2.4,null,null,2.2,2.4,2.3,2.2,2.3],
[2.6,2.2,2.5,2.8,2.6,2.9,3.0,3.1,3.2,3.0,3.1,3.0,2.9,3.0,3.1,3.0,2.9],
[4.8,4.7,4.5,4.6,4.7,4.5,4.6,4.7,4.5,4.6,4.7,4.6,4.5,4.6,4.7,4.5,4.6,4.7,4.6,4.5,4.6,4.4],
[5.4,5.2,5.3,5.5,5.4,5.3,5.6,5.2,5.3,5.4,5.5,5.3,5.4,5.5,5.4,5.3],
[5.0,5.2,4.9,5.1,5.0,4.8,3.6],
[5.8,5.6,5.5,5.7,5.4,5.6,5.8,5.5,5.6,5.4,5.7,5.6,5.5]];

// monthly climatologies (months 1-12)
const mOrange = [
[0.5,0.1,-0.1,0.6,1.3,1.8,2.0,2.4,2.4,2.0,1.7,1.3],
[11.1,11.2,11.2,10.4,8.8,7.4,6.9,7.4,8.0,8.7,10.1,10.8],
[19.5,19.5,19.3,18.3,16.5,14.6,13.9,14.5,15.2,16.3,17.9,19.0],
[18.5,18.6,18.4,17.1,15.0,13.2,12.3,12.7,13.6,14.6,16.7,17.9],
[8.6,8.4,9.6,10.5,12.2,15.9,20.0,20.2,17.0,13.6,10.6,9.1],
[22.3,21.8,19.5,16.2,12.0,9.1,8.2,10.0,13.5,17.2,20.3,22.3],
[18.5,18.8,16.6,14.0,11.3,7.8,6.6,7.9,11.0,13.0,14.8,16.8],
[-0.4,-0.3,-0.1,2.6,5.6,9.9,12.5,11.9,10.1,7.0,3.6,1.3]];
const mOrangeSd = [
[1.5,1.6,1.5,1.4,1.5,1.6,1.6,1.7,1.6,1.5,1.5,1.5],
[1.5,1.4,1.4,1.4,1.3,1.2,1.1,1.3,1.3,1.4,1.5,1.6],
[1.6,1.6,1.5,1.3,1.1,1.0,1.0,1.1,1.2,1.3,1.5,1.6],
[1.3,1.3,1.3,1.2,1.1,1.1,1.2,1.2,1.2,1.3,1.3,1.4],
[1.2,1.2,1.3,1.3,1.4,1.4,1.5,1.5,1.4,1.3,1.2,1.2],
[1.3,1.3,1.2,1.2,1.1,1.0,1.0,1.1,1.2,1.3,1.3,1.3],
[1.0,1.0,1.1,1.3,1.3,1.3,1.2,1.3,1.4,1.3,1.1,1.0],
[1.0,1.1,1.3,1.5,1.6,1.7,1.7,1.6,1.6,1.5,1.3,1.1]];
const mOrangeFut = [
[1.1,0.5,0.2,0.9,1.6,2.1,2.4,2.6,2.6,2.1,1.5,1.1],
[12.0,12.2,12.0,11.0,9.4,7.8,7.8,8.3,8.9,9.6,10.9,11.7],
[21.0,21.2,20.7,19.2,17.0,15.0,14.8,15.5,16.3,17.5,19.0,20.4],
[19.6,19.8,19.5,18.0,15.7,13.7,13.1,13.4,14.1,15.1,17.6,19.1],
[9.0,9.4,10.5,11.2,12.8,16.5,20.6,20.8,17.6,14.2,11.3,9.7],
[23.8,22.8,20.5,17.0,12.7,9.6,8.9,10.6,14.2,18.0,21.3,23.0],
[18.9,19.0,17.1,14.7,11.8,8.3,7.8,8.3,11.2,13.4,15.2,17.2],
[0.4,0.1,1.1,3.2,6.2,10.4,13.0,12.3,10.6,7.5,4.0,1.6]];
const mOrangeFutSd = [
[1.7,1.6,1.5,1.5,1.6,1.6,1.7,1.8,1.7,1.6,1.6,1.6],
[1.2,1.2,1.2,1.2,1.2,1.2,1.2,1.2,1.2,1.2,1.2,1.3],
[1.9,1.9,1.7,1.5,1.2,1.0,1.1,1.2,1.4,1.6,1.8,1.9],
[1.3,1.3,1.2,1.2,1.1,1.1,1.2,1.2,1.3,1.4,1.5,1.5],
[1.1,1.1,1.2,1.2,1.3,1.3,1.4,1.4,1.3,1.2,1.1,1.1],
[1.2,1.2,1.1,1.1,1.0,1.0,1.0,1.0,1.1,1.2,1.2,1.2],
[1.0,1.0,1.1,1.3,1.4,1.3,1.2,1.3,1.3,1.2,1.1,1.1],
[1.2,1.2,1.3,1.5,1.6,1.6,1.6,1.6,1.5,1.4,1.3,1.2]];
const mBlue = [
[-0.4,-0.7,-1.0,-0.2,0.5,1.1,1.6,2.3,2.3,1.5,1.1,0.6],
[10.8,11.0,11.0,10.3,8.9,7.5,7.1,7.7,8.3,8.8,10.1,10.6],
[19.1,19.3,19.1,18.0,16.3,14.7,14.3,14.8,15.4,16.3,18.0,18.7],
[18.0,18.1,18.1,16.9,15.0,13.1,12.5,12.8,13.6,14.4,16.5,17.4],
[8.7,9.6,10.6,11.3,12.6,16.5,21.0,21.4,18.2,14.6,11.6,9.9],
[21.9,21.7,19.5,16.0,12.0,8.6,8.2,9.8,13.2,16.9,19.6,21.9],
[17.8,18.1,16.3,13.5,11.0,8.5,8.2,8.8,11.1,12.8,14.5,16.8],
[1.5,1.3,1.8,4.0,7.2,12.1,13.4,13.0,11.4,8.6,5.1,2.5]];
const mBlueSd = [
[1.1,1.2,1.1,1.0,1.1,1.1,1.2,1.2,1.2,1.1,1.1,1.1],
[0.7,0.7,0.7,0.7,0.7,0.6,0.6,0.6,0.6,0.7,0.7,0.7],
[1.4,1.4,1.3,1.1,0.9,0.6,0.5,0.7,0.9,1.0,1.2,1.3],
[0.6,0.6,0.6,0.6,0.6,0.5,0.5,0.6,0.6,0.6,0.6,0.6],
[1.0,1.0,1.1,1.2,1.3,1.3,1.5,1.6,1.4,1.2,1.0,0.9],
[1.0,1.0,1.0,1.0,0.9,0.9,0.9,0.9,1.0,1.0,1.0,1.0],
[1.0,0.9,1.0,1.1,1.1,1.0,1.0,1.1,1.3,1.4,1.4,1.3],
[1.0,1.0,1.6,1.6,1.5,1.2,1.1,1.1,1.1,1.1,1.0,1.0]];
const mBlueFut = [
[0.2,-0.3,-0.4,0.3,1.0,1.6,2.1,2.4,2.4,1.6,1.2,0.8],
[11.5,11.6,11.7,10.7,9.1,7.7,7.6,8.0,8.6,9.3,10.7,11.4],
[20.6,20.8,20.5,19.0,16.8,14.8,14.4,15.0,15.7,17.0,18.9,20.0],
[18.5,18.7,18.5,17.2,15.1,13.3,12.8,13.1,13.7,14.7,16.9,18.1],
[9.2,10.2,11.3,12.0,13.7,17.0,21.0,21.1,18.6,15.0,12.0,10.4],
[23.2,22.4,20.0,16.8,12.6,9.6,8.9,10.4,14.0,17.6,20.7,22.4],
[18.5,18.5,16.5,14.0,11.2,8.6,8.6,9.1,11.4,13.0,14.9,17.2],
[1.8,1.6,3.0,4.5,7.7,12.4,13.6,13.3,11.8,9.0,5.4,3.0]];
const mBlueFutSd = [
[1.0,1.0,1.0,1.0,1.1,1.1,1.1,1.1,1.1,1.0,1.0,1.0],
[0.6,0.6,0.7,0.6,0.6,0.5,0.5,0.6,0.6,0.6,0.7,0.6],
[1.5,1.4,1.3,1.1,0.8,0.5,0.5,0.6,0.8,1.0,1.2,1.4],
[0.5,0.5,0.5,0.5,0.5,0.5,0.5,0.5,0.5,0.6,0.6,0.6],
[0.9,0.9,1.0,1.1,1.2,1.2,1.3,1.4,1.3,1.1,0.9,0.9],
[0.9,0.9,0.9,0.9,0.8,0.8,0.8,0.8,0.9,0.9,0.9,0.9],
[0.9,0.9,1.0,1.0,1.1,1.0,1.0,1.0,1.2,1.3,1.3,1.2],
[0.9,0.9,1.3,1.3,1.3,1.1,1.0,1.0,1.0,1.0,0.9,0.9]];
const mRean = [
[0.3,-0.5,-0.8,0.2,1.0,2.3,2.7,3.0,3.5,2.3,1.2,0.9],
[13.8,13.9,14.1,13.6,12.0,11.5,10.7,11.8,11.8,12.8,13.3,13.5],
[14.9,15.0,14.8,13.6,11.7,10.9,10.2,10.4,11.0,12.5,13.5,14.6],
[16.2,16.1,16.0,14.5,12.5,11.3,10.1,10.5,11.1,12.7,14.2,15.3],
[7.4,7.2,8.4,9.3,11.2,15.2,18.7,18.7,15.2,12.4,9.6,8.3],
[21.5,20.5,17.7,14.6,10.6,7.6,7.0,8.4,12.0,15.1,18.1,19.5],
[19.0,19.4,16.5,13.9,11.4,7.1,7.3,7.3,10.8,13.4,14.8,17.6],
[4.5,3.6,6.2,7.7,11.0,15.9,16.8,16.5,14.6,11.2,7.7,4.7]];
const mReanSd = [
[1.2,1.1,1.1,1.1,1.2,1.3,1.2,1.3,1.2,1.2,1.1,1.2],
[0.6,0.6,0.7,0.7,0.8,0.9,1.0,0.9,0.9,0.8,0.7,0.6],
[0.6,0.6,0.6,0.9,1.1,1.2,1.1,1.0,0.9,0.8,0.7,0.6],
[0.7,0.7,0.8,1.2,1.4,1.4,1.5,1.4,1.3,1.1,0.9,0.7],
[0.8,0.9,1.0,1.0,1.1,1.2,1.0,1.0,1.1,1.1,1.0,0.8],
[1.0,1.0,0.9,0.9,0.9,0.8,0.8,0.9,1.0,1.0,1.1,1.1],
[0.7,0.7,0.8,0.8,0.8,0.9,0.9,0.9,0.9,0.8,0.8,0.7],
[2.0,1.6,0.9,0.9,1.0,1.6,1.4,1.0,0.8,1.0,0.8,1.4]];
const mObs = [
[0.4,0.1,0.0,1.4,2.7,3.9,4.3,4.6,5.1,3.6,2.2,1.7],
[14.1,14.1,14.2,13.6,12.0,11.5,10.7,11.8,11.9,13.0,13.7,14.0],
[15.0,15.0,14.7,13.1,11.1,10.0,9.5,9.7,10.4,12.2,13.5,14.8],
[16.8,16.5,16.4,14.5,12.1,10.8,9.4,10.0,10.8,12.7,14.7,15.9],
[3.0,2.8,4.0,5.3,7.7,11.8,15.3,15.1,11.3,8.1,5.4,4.0],
[21.2,20.1,17.5,14.1,10.3,7.4,6.5,8.0,11.6,14.8,17.4,18.9],
[18.3,18.4,16.1,12.3,9.7,5.2,5.8,5.8,9.3,12.4,14.3,17.1],
[2.0,1.4,4.2,5.8,9.3,14.5,15.4,14.7,12.7,9.3,5.6,2.7]];
const mObsSd = [
[1.3,1.3,1.2,1.1,1.1,0.9,0.9,0.9,0.9,0.8,1.1,1.3],
[0.6,0.7,0.9,0.8,1.0,1.2,1.3,1.1,1.2,1.1,1.1,0.7],
[0.6,0.6,0.8,1.1,1.5,1.5,1.4,1.4,1.5,1.2,0.8,0.7],
[1.2,1.2,1.3,1.5,1.8,1.7,1.6,1.9,2.3,1.8,1.3,1.1],
[1.7,1.7,1.5,1.4,1.3,1.0,0.9,0.9,1.0,1.2,1.4,1.2],
[1.5,1.4,1.3,1.4,1.3,1.1,1.0,1.2,1.3,1.4,1.6,1.6],
[0.8,0.7,1.0,1.3,1.0,1.2,1.0,1.2,2.0,1.3,0.9,0.8],
[0.9,0.8,0.8,0.8,0.9,0.9,0.8,0.9,0.8,0.8,0.8,0.8]];

// Taylor diagrams: points as [x, y] = [sd*corr, sd*sqrt(1-corr^2)] (normalised sd)
const taylorMax = [1,1.5,1.5,1.5,1.5,1.5,1,1.5];
const taylorOrangeMean = [[0.33,0.30],[0.76,0.73],[0.76,0.46],[0.63,0.44],[0.87,0.33],[1.01,0.29],[0.84,0.20],[0.83,0.32]];
const taylorBlueMean = [[0.50,0.31],[0.74,0.63],[0.62,0.49],[0.56,0.42],[0.91,0.33],[0.95,0.28],[0.72,0.20],[0.83,0.26]];
const taylorRean = [[0.75,0.26],[0.89,0.16],[0.84,0.19],[0.74,0.27],[0.92,0.10],[0.99,0.15],[0.92,0.063],[0.93,0.095]];
// individual models, order: m1..m6
const taylorOrangeModels = [
[[0.12,0.53],[0.35,0.53],[0.27,0.43],null,[0.48,0.53],[0.38,0.49]],
[[0.96,1.03],[0.77,0.87],[0.60,0.97],[0.71,1.15],[0.84,0.89],[0.66,0.75]],
[[1.22,0.80],[0.48,0.49],null,[0.77,0.73],[0.66,0.60],[0.70,0.55]],
[null,[0.74,0.63],[0.65,0.63],null,[0.61,0.51],[0.47,0.52]],
[null,null,[0.68,0.43],[1.00,0.54],[0.81,0.44],[0.78,0.42]],
[null,null,[1.04,0.36],[1.16,0.41],[1.00,0.42],[0.97,0.35]],
[[0.76,0.29],null,[0.93,0.32],[0.86,0.47],[0.80,0.36],[0.86,0.27]],
[null,null,[0.74,0.41],[1.07,0.42],[0.81,0.35],[0.85,0.30]]];
const taylorBlueModels = [
[[0.57,0.42],[0.57,0.49],[0.28,0.42],[0.50,0.48],[0.57,0.55],null],
[[0.81,0.75],[0.63,0.70],[0.77,0.84],[0.68,0.82],[0.79,0.90],null],
[[0.99,0.74],[0.37,0.42],null,[0.55,0.64],[0.57,0.60],[0.74,0.52]],
[[0.72,0.55],[0.39,0.44],[0.56,0.56],[0.63,0.58],[0.51,0.53],null],
[[0.89,0.44],null,[0.70,0.41],[1.08,0.46],[0.93,0.54],null],
[[0.87,0.30],[0.93,0.38],[0.95,0.36],null,[1.00,0.45],null],
[[0.58,0.20],[0.72,0.27],[0.88,0.40],[0.74,0.31],[0.64,0.38],null],
[null,[0.82,0.33],[0.74,0.40],null,[0.87,0.41],null]];
const corrTickValues = [0,0.2,0.4,0.6,0.8,0.95,1];
const corrDotValues = [0.1,0.2,0.3,0.4,0.5,0.6,0.7,0.8,0.9,0.95,0.99];

// ================= STYLE / DRAWING =================
Chart.defaults.font.family = "'DejaVu Sans', sans-serif";
Chart.defaults.color = '#000';
const FONT = "'DejaVu Sans', sans-serif";
const C = {
  orange:'#d95f02', blue:'#16168f', red:'#8b0000', black:'#000000',
  orangeBand:'rgba(244,164,96,0.36)', blueBand:'rgba(90,90,200,0.28)',
  redBand:'rgba(139,0,0,0.22)', blackBand:'rgba(0,0,0,0.42)',
  peach:'rgba(244,164,96,0.65)', slate:'rgba(100,100,180,0.6)'
};
const DOT = [2,2], DASHDOT = [5,2,1.5,2];

function mkCanvas(left, top, w, h) {
  const c = document.createElement('canvas');
  c.width = w; c.height = h;
  c.style.left = left + 'px'; c.style.top = top + 'px';
  c.style.width = w + 'px'; c.style.height = h + 'px';
  document.body.appendChild(c);
  return c;
}
const yrs = (s, n) => Array.from({length:n}, (_, i) => s + i);
function band(ds, xs, mean, sd, color, order) {
  ds.push({data: mean.map((v,i) => ({x: xs[i], y: v == null ? null : v - sd[i]})), borderWidth:0, borderColor:'rgba(0,0,0,0)', pointRadius:0, fill:false, order});
  ds.push({data: mean.map((v,i) => ({x: xs[i], y: v == null ? null : v + sd[i]})), borderWidth:0, borderColor:'rgba(0,0,0,0)', pointRadius:0, fill:'-1', backgroundColor: color, order});
}
function line(xs, arr, color, dash, ptR, order) {
  return {data: arr.map((v,i) => ({x: xs[i], y: v})), borderColor: color, backgroundColor: color,
    borderWidth: 1.3, borderDash: dash, pointRadius: ptR, pointBorderWidth: 0, pointHoverRadius: 0,
    fill: false, tension: 0, spanGaps: false, order};
}
function setTicks(vals) { return s => { s.ticks = vals.map(v => ({value: v})); }; }

const framePlugin = {
  id: 'frame',
  afterDraw(chart, args, o) {
    const ctx = chart.ctx, a = chart.chartArea;
    if (o && o.box) {
      ctx.save(); ctx.strokeStyle = '#4d4d4d'; ctx.lineWidth = 1;
      ctx.strokeRect(Math.round(a.left) + 0.5, Math.round(a.top) + 0.5, Math.round(a.width) - 1, Math.round(a.height) - 1);
      ctx.restore();
    }
    if (o && o.title) {
      ctx.save(); ctx.font = '13.5px ' + FONT; ctx.fillStyle = '#000';
      ctx.textAlign = 'center'; ctx.textBaseline = 'middle';
      ctx.fillText(o.title, (a.left + a.right) / 2, a.top - 10);
      ctx.restore();
    }
    if (o && o.yTitle) {
      ctx.save(); ctx.font = '11.5px ' + FONT; ctx.fillStyle = '#000';
      ctx.textAlign = 'center'; ctx.textBaseline = 'middle';
      ctx.translate(o.yTitleX, (a.top + a.bottom) / 2); ctx.rotate(-Math.PI / 2);
      ctx.fillText(o.yTitle, 0, 0);
      ctx.restore();
    }
  }
};

const taylorPlugin = {
  id: 'taylor',
  beforeDatasetsDraw(chart, args, o) {
    if (!o || !o.R) return;
    const ctx = chart.ctx, xs = chart.scales.x, ys = chart.scales.y, R = o.R;
    const P = (x, y) => [xs.getPixelForValue(x), ys.getPixelForValue(y)];
    const [ox, oy] = P(0, 0);
    const Rpx = P(R, 0)[0] - ox;
    ctx.save();
    ctx.lineWidth = 0.9; ctx.strokeStyle = '#8f8f8f';
    o.rms.forEach(rho => {
      ctx.beginPath(); let pen = false;
      for (let k = 0; k <= 720; k++) {
        const t = Math.PI * k / 720, x = 1 + rho * Math.cos(t), y = rho * Math.sin(t);
        if (x >= 0 && x * x + y * y <= R * R) {
          const p = P(x, y);
          if (pen) ctx.lineTo(p[0], p[1]); else ctx.moveTo(p[0], p[1]);
          pen = true;
        } else pen = false;
      }
      ctx.stroke();
    });
    ctx.font = '8px ' + FONT; ctx.textAlign = 'center'; ctx.textBaseline = 'middle';
    o.rms.forEach((rho, i) => {
      const th = o.rmsAngle * Math.PI / 180;
      const p = P(1 + rho * Math.cos(th), rho * Math.sin(th));
      ctx.save(); ctx.translate(p[0], p[1]); ctx.rotate(-(th - Math.PI / 2));
      const w = ctx.measureText(o.rmsLabels[i]).width;
      ctx.fillStyle = '#fff'; ctx.fillRect(-w / 2 - 1, -4, w + 2, 8);
      ctx.fillStyle = '#8f8f8f'; ctx.fillText(o.rmsLabels[i], 0, 0);
      ctx.restore();
    });
    const arc = rad => {
      ctx.beginPath();
      for (let k = 0; k <= 180; k++) {
        const t = Math.PI / 2 * k / 180, p = P(rad * Math.cos(t), rad * Math.sin(t));
        if (k) ctx.lineTo(p[0], p[1]); else ctx.moveTo(p[0], p[1]);
      }
      ctx.stroke();
    };
    if (R > 1) { ctx.strokeStyle = '#333'; ctx.lineWidth = 1.1; ctx.setLineDash([1.2, 2.2]); arc(R); ctx.setLineDash([]); }
    ctx.strokeStyle = '#ff1a1a'; ctx.lineWidth = 1.3; arc(1);
    ctx.fillStyle = '#7d7d7d';
    corrDotValues.forEach(c => {
      const p = P(R * c, R * Math.sqrt(1 - c * c));
      ctx.beginPath(); ctx.arc(p[0], p[1], 2.3, 0, 2 * Math.PI); ctx.fill();
    });
    ctx.font = '8.5px ' + FONT; ctx.fillStyle = '#858585';
    corrTickValues.forEach(c => {
      const th = Math.acos(c), rr = Rpx + 11;
      ctx.fillText(String(c), ox + rr * Math.cos(th) + 2, oy - rr * Math.sin(th));
    });
    ctx.font = '13px ' + FONT; ctx.fillStyle = '#8c8c8c';
    const word = 'Correlation';
    for (let i = 0; i < word.length; i++) {
      const th = (61 - i * 2.9) * Math.PI / 180, rr = Rpx * 1.215;
      ctx.save(); ctx.translate(ox + rr * Math.cos(th), oy - rr * Math.sin(th)); ctx.rotate(Math.PI / 2 - th);
      ctx.fillText(word[i], 0, 0); ctx.restore();
    }
    const rp = P(1, 0);
    ctx.fillStyle = '#ff1a1a'; ctx.beginPath(); ctx.arc(rp[0], rp[1], 3.2, 0, 2 * Math.PI); ctx.fill();
    ctx.restore();
  }
};
Chart.register(framePlugin, taylorPlugin);

function markerImg(kind, size, color) {
  const c = document.createElement('canvas'); c.width = c.height = size;
  const g = c.getContext('2d'); g.fillStyle = color; g.beginPath();
  const cx = size / 2, cy = size / 2, Ro = size / 2;
  const n = kind === 'star' ? 10 : 5;
  for (let i = 0; i < n; i++) {
    const a = -Math.PI / 2 + i * 2 * Math.PI / n;
    const rr = kind === 'star' ? (i % 2 ? Ro * 0.42 : Ro) : Ro * 0.95;
    g.lineTo(cx + rr * Math.cos(a), cy + rr * Math.sin(a));
  }
  g.closePath(); g.fill();
  return c;
}
const starImg = markerImg('star', 15, C.red);
const pentPeach = markerImg('pent', 9, C.peach);
const pentSlate = markerImg('pent', 9, C.slate);
const SHAPES = ['triangle', 'triangle', 'rect', 'rectRot', 'circle', null];

function yScaleCfg(r, width) {
  return {type:'linear', min:yMin[r], max:yMax[r], afterBuildTicks:setTicks(yTicks[r]),
    ticks:{font:{size:11.5}, padding:2, callback: v => v.toFixed(yTickDecimals[r])},
    grid:{drawOnChartArea:false, tickLength:4, color:'#333'}, border:{display:false},
    title:{display:false},
    afterFit: s => { s.width = width; }};
}
function baseOptions(padL, padR, padB) {
  return {responsive:false, animation:false, events:[], devicePixelRatio:1,
    layout:{autoPadding:false, padding:{left:padL, right:padR, top:21, bottom:padB}}};
}

function seriesChart(r, top) {
  const cv = mkCanvas(0, top, 620, 227);
  const ds = [];
  const hx = yrs(histStart, 65), fx = yrs(futStart, 36), rx = yrs(reanStart, reanYear[r].length), bx = yrs(obsStart[r], obsYear[r].length);
  band(ds, hx, orangeHist[r], orangeHistSd[r], C.orangeBand, 40);
  band(ds, fx, orangeFut[r], orangeFutSd[r], C.orangeBand, 39);
  band(ds, hx, blueHist[r], blueHistSd[r], C.blueBand, 38);
  band(ds, fx, blueFut[r], blueFutSd[r], C.blueBand, 37);
  band(ds, rx, reanYear[r], reanYearSd[r], C.redBand, 36);
  band(ds, bx, obsYear[r], obsYearSd[r], C.blackBand, 35);
  ds.push(line(hx, orangeHist[r], C.orange, [], 0, 10));
  ds.push(line(fx, orangeFut[r], C.orange, DOT, 0, 9));
  ds.push(line(hx, blueHist[r], C.blue, [], 0, 8));
  ds.push(line(fx, blueFut[r], C.blue, DASHDOT, 0, 7));
  ds.push(line(rx, reanYear[r], C.red, [], 1.7, 6));
  ds.push(line(bx, obsYear[r], C.black, [], 2.5, 5));
  const opt = baseOptions(0, 18, 10);
  opt.scales = {
    x: {type:'linear', min:1945, max:2055, afterBuildTicks:setTicks(yearTicks),
      ticks:{font:{size:10.8}, padding:1, autoSkip:false, minRotation:45, maxRotation:45, callback: v => String(v)},
      grid:{drawOnChartArea:false, tickLength:4, color:'#333'}, border:{display:false},
      title:{display:true, text:'time [years]', font:{size:11.5}, padding:0},
      afterFit: s => { s.height = 49; }},
    y: yScaleCfg(r, 47)
  };
  opt.plugins = {legend:{display:false}, tooltip:{enabled:false},
    frame:{box:true, title:siteTitles[r], yTitle:'Temperature [deg C]', yTitleX: r === 3 ? 8 : 19}};
  new Chart(cv, {type:'line', data:{datasets:ds}, options:opt});
}

function monthlyChart(r, top) {
  const cv = mkCanvas(620, top, 320, 227);
  const ds = [];
  band(ds, monthTicks, mOrange[r], mOrangeSd[r], C.orangeBand, 40);
  band(ds, monthTicks, mOrangeFut[r], mOrangeFutSd[r], C.orangeBand, 39);
  band(ds, monthTicks, mBlue[r], mBlueSd[r], C.blueBand, 38);
  band(ds, monthTicks, mBlueFut[r], mBlueFutSd[r], C.blueBand, 37);
  band(ds, monthTicks, mRean[r], mReanSd[r], C.redBand, 36);
  band(ds, monthTicks, mObs[r], mObsSd[r], C.blackBand, 35);
  ds.push(line(monthTicks, mOrange[r], C.orange, [], 0, 10));
  ds.push(line(monthTicks, mOrangeFut[r], C.orange, DOT, 0, 9));
  ds.push(line(monthTicks, mBlue[r], C.blue, [], 0, 8));
  ds.push(line(monthTicks, mBlueFut[r], C.blue, DASHDOT, 0, 7));
  ds.push(line(monthTicks, mRean[r], C.red, [], 1.8, 6));
  ds.push(line(monthTicks, mObs[r], C.black, [], 2.6, 5));
  const opt = baseOptions(0, 25, 27);
  opt.scales = {
    x: {type:'linear', min:0.45, max:12.55, afterBuildTicks:setTicks(monthTicks),
      ticks:{font:{size:11.5}, padding:2, autoSkip:false, maxRotation:0, minRotation:0},
      grid:{drawOnChartArea:false, tickLength:4, color:'#333'}, border:{display:false},
      title:{display:true, text:'time [months]', font:{size:11.5}, padding:0},
      afterFit: s => { s.height = 32; }},
    y: yScaleCfg(r, 57)
  };
  opt.plugins = {legend:{display:false}, tooltip:{enabled:false},
    frame:{box:true, yTitle:'Temperature [deg C]', yTitleX: 13}};
  new Chart(cv, {type:'line', data:{datasets:ds}, options:opt});
}

function taylorChart(r, top) {
  const R = taylorMax[r], unit = R === 1;
  const cv = mkCanvas(940, top, 260, 227);
  const tks = unit ? [0, 0.5, 1] : [0, 1];
  const fmt = v => unit ? v.toFixed(1) : String(v);
  const pts = arr => arr.map((p, k) => p ? {x:p[0], y:p[1], k} : null).filter(Boolean);
  const styleFor = pent => c => (c.raw && c.raw.k === 5) ? pent : (c.raw ? SHAPES[c.raw.k] : 'circle');
  const rot = c => (c.raw && c.raw.k === 1) ? 180 : 0;
  const ds = [
    {data: pts(taylorOrangeModels[r]), pointStyle: styleFor(pentPeach), rotation: rot, pointRadius: 4.4, backgroundColor: C.peach, borderColor: C.peach, borderWidth: 0, clip: false, order: 6},
    {data: pts(taylorBlueModels[r]), pointStyle: styleFor(pentSlate), rotation: rot, pointRadius: 4.4, backgroundColor: C.slate, borderColor: C.slate, borderWidth: 0, clip: false, order: 5},
    {data: [{x: taylorOrangeMean[r][0], y: taylorOrangeMean[r][1]}], pointRadius: 7.5, backgroundColor: C.orange, borderColor: '#b34d00', borderWidth: 0.6, clip: false, order: 4},
    {data: [{x: taylorBlueMean[r][0], y: taylorBlueMean[r][1]}], pointRadius: 7.5, backgroundColor: '#000080', borderColor: '#000', borderWidth: 1, clip: false, order: 3},
    {data: [{x: taylorRean[r][0], y: taylorRean[r][1]}], pointStyle: starImg, clip: false, order: 2}
  ];
  const opt = baseOptions(0, 18, 27);
  const axis = extra => Object.assign({type:'linear', min:0, max:R, afterBuildTicks:setTicks(tks),
    ticks:{font:{size:12}, padding:5, autoSkip:false, maxRotation:0, callback: fmt},
    grid:{display:false, drawTicks:false}, border:{display:true, color:'#000', width:2}}, extra);
  opt.scales = {
    x: axis({title:{display:true, text:'Standard Deviation', font:{size:11.5}, padding:0}, afterFit: s => { s.height = 32; }}),
    y: axis({title:{display:false}, afterFit: s => { s.width = 94; }})
  };
  opt.plugins = {legend:{display:false}, tooltip:{enabled:false},
    frame:{yTitle:'Standard Deviation', yTitleX: unit ? 61 : 72},
    taylor: {R, rms: unit ? [0.5, 1.0] : [0.5, 1.0, 1.5], rmsLabels: unit ? ['0.5', '1.0'] : ['0.5', '0', '1.5'], rmsAngle: unit ? 132 : 120}};
  new Chart(cv, {type:'scatter', data:{datasets:ds}, options:opt});
}

for (let r = 0; r < 8; r++) {
  const top = Math.round(21 + r * 227.4) - 21;
  seriesChart(r, top);
  monthlyChart(r, top);
  taylorChart(r, top);
}
</script>
</body></html>
